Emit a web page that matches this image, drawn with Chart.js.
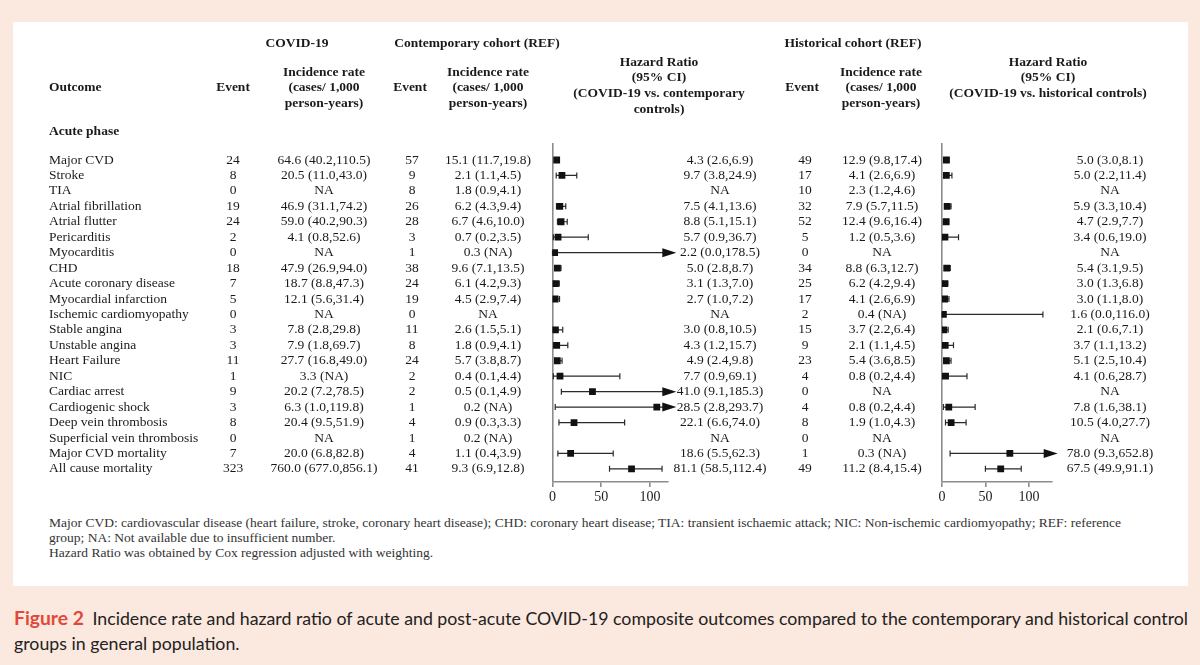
<!DOCTYPE html>
<html>
<head>
<meta charset="utf-8">
<script src="https://cdn.jsdelivr.net/npm/chart.js@4.4.1/dist/chart.umd.min.js"></script>
<style>
body{margin:0;width:1200px;height:665px;background:#fbe8de;position:relative;overflow:hidden;font-family:"Liberation Serif",serif;}
#panel{position:absolute;left:13px;top:22px;width:1175px;height:564px;background:#fff;}
#boxA{position:absolute;left:0;top:0;width:770px;height:510px;}
#boxB{position:absolute;left:770px;top:0;width:430px;height:510px;}
#notes{position:absolute;left:49px;top:516px;font-size:12.8px;line-height:15px;color:#333;white-space:nowrap;transform-origin:0 0;}
#caption{position:absolute;left:14px;top:605px;font-family:Lato,sans-serif;font-size:17.5px;line-height:25px;color:#222;white-space:nowrap;transform-origin:0 0;}
#caption b{color:#e2483a;font-size:19px;margin-right:4px;}
</style>
</head>
<body>
<div id="panel"></div>
<div id="boxA"><canvas id="chartA"></canvas></div>
<div id="boxB"><canvas id="chartB"></canvas></div>
<div id="notes"><span id="note1">Major CVD: cardiovascular disease (heart failure, stroke, coronary heart disease); CHD: coronary heart disease; TIA: transient ischaemic attack; NIC: Non-ischemic cardiomyopathy; REF: reference</span><br>group; NA: Not available due to insufficient number.<br>Hazard Ratio was obtained by Cox regression adjusted with weighting.</div>
<div id="caption"><span id="cap1"><b>Figure 2</b> Incidence rate and hazard ratio of acute and post-acute COVID-19 composite outcomes compared to the contemporary and historical control</span><br>groups in general population.</div>
<script>
// rows of the table (acute phase)
const outcomes = ['Major CVD', 'Stroke', 'TIA', 'Atrial fibrillation', 'Atrial flutter', 'Pericarditis', 'Myocarditis', 'CHD',
    'Acute coronary disease', 'Myocardial infarction', 'Ischemic cardiomyopathy', 'Stable angina', 'Unstable angina',
    'Heart Failure', 'NIC', 'Cardiac arrest', 'Cardiogenic shock', 'Deep vein thrombosis', 'Superficial vein thrombosis',
    'Major CVD mortality', 'All cause mortality'];
const covEvents = ['24', '8', '0', '19', '24', '2', '0', '18', '7', '5', '0', '3', '3', '11', '1', '9', '3', '8', '0', '7', '323'];
const covIR = ['64.6 (40.2,110.5)', '20.5 (11.0,43.0)', 'NA', '46.9 (31.1,74.2)', '59.0 (40.2,90.3)', '4.1 (0.8,52.6)', 'NA',
    '47.9 (26.9,94.0)', '18.7 (8.8,47.3)', '12.1 (5.6,31.4)', 'NA', '7.8 (2.8,29.8)', '7.9 (1.8,69.7)', '27.7 (16.8,49.0)',
    '3.3 (NA)', '20.2 (7.2,78.5)', '6.3 (1.0,119.8)', '20.4 (9.5,51.9)', 'NA', '20.0 (6.8,82.8)', '760.0 (677.0,856.1)'];
const contEvents = ['57', '9', '8', '26', '28', '3', '1', '38', '24', '19', '0', '11', '8', '24', '2', '2', '1', '4', '1', '4', '41'];
const contIR = ['15.1 (11.7,19.8)', '2.1 (1.1,4.5)', '1.8 (0.9,4.1)', '6.2 (4.3,9.4)', '6.7 (4.6,10.0)', '0.7 (0.2,3.5)', '0.3 (NA)',
    '9.6 (7.1,13.5)', '6.1 (4.2,9.3)', '4.5 (2.9,7.4)', 'NA', '2.6 (1.5,5.1)', '1.8 (0.9,4.1)', '5.7 (3.8,8.7)', '0.4 (0.1,4.4)',
    '0.5 (0.1,4.9)', '0.2 (NA)', '0.9 (0.3,3.3)', '0.2 (NA)', '1.1 (0.4,3.9)', '9.3 (6.9,12.8)'];
const contHRText = ['4.3 (2.6,6.9)', '9.7 (3.8,24.9)', 'NA', '7.5 (4.1,13.6)', '8.8 (5.1,15.1)', '5.7 (0.9,36.7)', '2.2 (0.0,178.5)',
    '5.0 (2.8,8.7)', '3.1 (1.3,7.0)', '2.7 (1.0,7.2)', 'NA', '3.0 (0.8,10.5)', '4.3 (1.2,15.7)', '4.9 (2.4,9.8)', '7.7 (0.9,69.1)',
    '41.0 (9.1,185.3)', '28.5 (2.8,293.7)', '22.1 (6.6,74.0)', 'NA', '18.6 (5.5,62.3)', '81.1 (58.5,112.4)'];
const histEvents = ['49', '17', '10', '32', '52', '5', '0', '34', '25', '17', '2', '15', '9', '23', '4', '0', '4', '8', '0', '1', '49'];
const histIR = ['12.9 (9.8,17.4)', '4.1 (2.6,6.9)', '2.3 (1.2,4.6)', '7.9 (5.7,11.5)', '12.4 (9.6,16.4)', '1.2 (0.5,3.6)', 'NA',
    '8.8 (6.3,12.7)', '6.2 (4.2,9.4)', '4.1 (2.6,6.9)', '0.4 (NA)', '3.7 (2.2,6.4)', '2.1 (1.1,4.5)', '5.4 (3.6,8.5)', '0.8 (0.2,4.4)',
    'NA', '0.8 (0.2,4.4)', '1.9 (1.0,4.3)', 'NA', '0.3 (NA)', '11.2 (8.4,15.4)'];
const histHRText = ['5.0 (3.0,8.1)', '5.0 (2.2,11.4)', 'NA', '5.9 (3.3,10.4)', '4.7 (2.9,7.7)', '3.4 (0.6,19.0)', 'NA',
    '5.4 (3.1,9.5)', '3.0 (1.3,6.8)', '3.0 (1.1,8.0)', '1.6 (0.0,116.0)', '2.1 (0.6,7.1)', '3.7 (1.1,13.2)', '5.1 (2.5,10.4)',
    '4.1 (0.6,28.7)', 'NA', '7.8 (1.6,38.1)', '10.5 (4.0,27.7)', 'NA', '78.0 (9.3,652.8)', '67.5 (49.9,91.1)'];

// forest plot values as drawn (marker, lower, upper)
const contPoint = [4.3, 9.7, null, 7.5, 8.8, 5.7, 2.2, 5.0, 3.1, 2.7, null, 3.0, 4.3, 4.9, 7.7, 41.0, 107, 22.1, null, 18.6, 81.1];
const contLo = [2.6, 3.8, null, 4.1, 5.1, 0.9, 0.0, 2.8, 1.3, 1.0, null, 0.8, 1.2, 2.4, 0.9, 9.1, 2.8, 6.6, null, 5.5, 58.5];
const contHi = [6.9, 24.9, null, 13.6, 15.1, 36.7, 178.5, 8.7, 7.0, 7.2, null, 10.5, 15.7, 9.8, 69.1, 185.3, 293.7, 74.0, null, 62.3, 112.4];
const histPoint = [5.0, 5.0, null, 5.9, 4.7, 3.4, null, 5.4, 3.0, 3.0, 1.6, 2.1, 3.7, 5.1, 4.1, null, 7.8, 10.5, null, 78.0, 67.5];
const histLo = [3.0, 2.2, null, 3.3, 2.9, 0.6, null, 3.1, 1.3, 1.1, 0.0, 0.6, 1.1, 2.5, 0.6, null, 1.6, 4.0, null, 9.3, 49.9];
const histHi = [8.1, 11.4, null, 10.4, 7.7, 19.0, null, 9.5, 6.8, 8.0, 116.0, 7.1, 13.2, 10.4, 28.7, null, 38.1, 27.7, null, 652.8, 91.1];
const tickVals = [0, 50, 100];

const SERIF = '"Liberation Serif", "Times New Roman", serif';
const axisGray = '#8c8c8c';

// whiskers + arrows, drawn under the square markers
const ciBars = {
    id: 'ciBars',
    beforeDatasetsDraw(chart, args, opts) {
        const ctx = chart.ctx;
        const x = chart.scales.x, y = chart.scales.y;
        ctx.save();
        ctx.strokeStyle = '#2a2a2a';
        ctx.fillStyle = '#111';
        ctx.lineWidth = 1.2;
        opts.lo.forEach((lo, i) => {
            const hi = opts.hi[i];
            if (lo == null) return;
            const py = y.getPixelForValue(i);
            const x0 = x.getPixelForValue(lo);
            const arrow = hi > x.max;
            const x1 = x.getPixelForValue(arrow ? opts.arrowTo : hi);
            ctx.beginPath();
            ctx.moveTo(x0, py);
            ctx.lineTo(arrow ? x1 - 12 : x1, py);
            ctx.moveTo(x0, py - 3);
            ctx.lineTo(x0, py + 3);
            if (!arrow) {
                ctx.moveTo(x1, py - 3);
                ctx.lineTo(x1, py + 3);
            }
            ctx.stroke();
            if (arrow) {
                ctx.beginPath();
                ctx.moveTo(x1, py);
                ctx.lineTo(x1 - 14, py - 4.5);
                ctx.lineTo(x1 - 14, py + 4.5);
                ctx.closePath();
                ctx.fill();
            }
        });
        ctx.restore();
    }
};

// table text drawn on the rows of the y scale
const tableText = {
    id: 'tableText',
    afterDraw(chart, args, opts) {
        const ctx = chart.ctx;
        const y = chart.scales.y;
        ctx.save();
        ctx.fillStyle = '#1a1a1a';
        ctx.textBaseline = 'middle';
        opts.headers.forEach(h => {
            ctx.font = 'bold 13.5px ' + SERIF;
            ctx.textAlign = h.align || 'center';
            ctx.fillText(h.text, h.x, h.y);
        });
        ctx.font = '13.5px ' + SERIF;
        opts.columns.forEach(c => {
            ctx.textAlign = c.align || 'center';
            c.values.forEach((v, i) => ctx.fillText(v, c.x, y.getPixelForValue(i)));
        });
        ctx.restore();
    }
};

function forestOptions(xmax, padL, padR, lo, hi, arrowTo, headers, columns) {
    return {
        responsive: true,
        maintainAspectRatio: false,
        animation: false,
        layout: { padding: { left: padL, right: padR, top: 143, bottom: 0 } },
        scales: {
            x: {
                type: 'linear',
                min: 0,
                max: xmax,
                afterBuildTicks: (s) => { s.ticks = tickVals.map(v => ({ value: v })); },
                afterFit: (s) => { s.height = 28; },
                ticks: { font: { family: SERIF, size: 14 }, color: '#222', padding: 2, maxRotation: 0 },
                grid: {
                    color: (c) => (c.tick && c.tick.value === 0 ? axisGray : 'rgba(0,0,0,0)'),
                    lineWidth: 1.6,
                    tickColor: axisGray,
                    tickLength: 5
                },
                border: { color: axisGray, width: 1.4 }
            },
            y: { type: 'linear', min: -1.1, max: 20.85, reverse: true, display: false }
        },
        plugins: {
            legend: { display: false },
            tooltip: { enabled: false },
            ciBars: { lo: lo, hi: hi, arrowTo: arrowTo },
            tableText: { headers: headers, columns: columns }
        }
    };
}

function points(arr) {
    return arr.map((v, i) => ({ x: v, y: i })).filter(p => p.x != null);
}

const markerStyle = { pointStyle: 'rect', pointRadius: 4.8, backgroundColor: '#111', borderWidth: 0 };

const headersA = [
    { text: 'COVID-19', x: 297, y: 44 },
    { text: 'Contemporary cohort (REF)', x: 477, y: 44 },
    { text: 'Outcome', x: 49, y: 88, align: 'left' },
    { text: 'Event', x: 233, y: 88 },
    { text: 'Incidence rate', x: 324, y: 73 },
    { text: '(cases/ 1,000', x: 324, y: 88 },
    { text: 'person-years)', x: 324, y: 104 },
    { text: 'Event', x: 410, y: 88 },
    { text: 'Incidence rate', x: 488, y: 73 },
    { text: '(cases/ 1,000', x: 488, y: 88 },
    { text: 'person-years)', x: 488, y: 104 },
    { text: 'Hazard Ratio', x: 659, y: 63 },
    { text: '(95% CI)', x: 659, y: 78 },
    { text: '(COVID-19 vs. contemporary', x: 659, y: 94 },
    { text: 'controls)', x: 659, y: 110 },
    { text: 'Acute phase', x: 49, y: 132, align: 'left' }
];
const columnsA = [
    { values: outcomes, x: 49, align: 'left' },
    { values: covEvents, x: 233 },
    { values: covIR, x: 324 },
    { values: contEvents, x: 412 },
    { values: contIR, x: 488 },
    { values: contHRText, x: 720 }
];
const headersB = [
    { text: 'Historical cohort (REF)', x: 83, y: 44 },
    { text: 'Event', x: 32, y: 88 },
    { text: 'Incidence rate', x: 111, y: 73 },
    { text: '(cases/ 1,000', x: 111, y: 88 },
    { text: 'person-years)', x: 111, y: 104 },
    { text: 'Hazard Ratio', x: 278, y: 63 },
    { text: '(95% CI)', x: 278, y: 78 },
    { text: '(COVID-19 vs. historical controls)', x: 278, y: 94 }
];
const columnsB = [
    { values: histEvents, x: 35 },
    { values: histIR, x: 112 },
    { values: histHRText, x: 340 }
];

const chartA = new Chart(document.getElementById('chartA').getContext('2d'), {
    type: 'scatter',
    data: { datasets: [Object.assign({ data: points(contPoint) }, markerStyle)] },
    options: forestOptions(118.5, 552.5, 102, contLo, contHi, 127, headersA, columnsA),
    plugins: [ciBars, tableText]
});

const chartB = new Chart(document.getElementById('chartB').getContext('2d'), {
    type: 'scatter',
    data: { datasets: [Object.assign({ data: points(histPoint) }, markerStyle)] },
    options: forestOptions(126, 172, 148.4, histLo, histHi, 133, headersB, columnsB),
    plugins: [ciBars, tableText]
});

// squeeze caption / note lines to the widths of the reference
function fit(id, boxId, target) {
    const w = document.getElementById(id).getBoundingClientRect().width;
    document.getElementById(boxId).style.transform = 'scaleX(' + (target / w) + ')';
}
fit('cap1', 'caption', 1174);
fit('note1', 'notes', 1072);
</script>
</body>
</html>
